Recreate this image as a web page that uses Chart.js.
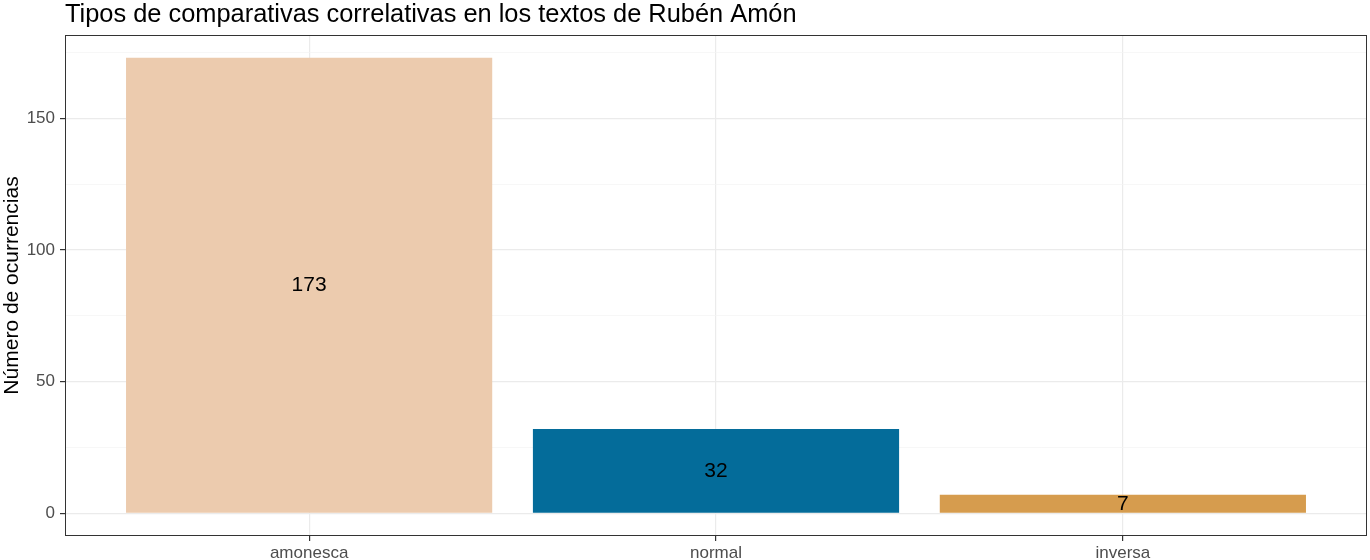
<!DOCTYPE html>
<html>
<head>
<meta charset="utf-8">
<script src="https://cdn.jsdelivr.net/npm/chart.js@4.4.0/dist/chart.umd.min.js"></script>
<style>
  html, body { margin: 0; padding: 0; background: #fff; }
  #wrap { width: 1370px; height: 560px; }
</style>
</head>
<body>
<div id="wrap"><canvas id="bars"></canvas></div>
<script>
const categories = ['amonesca', 'normal', 'inversa'];
const counts = [173, 32, 7];
const barColors = ['#ECCBAE', '#046C9A', '#D69C4E'];
const yTicks = [0, 25, 50, 75, 100, 125, 150, 175];

const titleText = 'Tipos de comparativas correlativas en los textos de Rubén Amón';
const fontFamily = '"Liberation Sans", Arial, Helvetica, sans-serif';

// ggplot-like extras: title, panel box and value labels
const extras = {
  id: 'extras',
  afterDraw(chart) {
    const c = chart.ctx;
    const a = chart.chartArea;
    c.save();
    c.fillStyle = '#000';
    c.font = '25.4px ' + fontFamily;
    c.textBaseline = 'middle';
    c.textAlign = 'left';
    c.fillText(titleText, a.left, 15);

    c.strokeStyle = '#333333';
    c.lineWidth = 1;
    c.strokeRect(a.left + 0.5, a.top + 0.5, a.right - a.left - 1, a.bottom - a.top - 1);

    const xs = chart.scales.x, ys = chart.scales.y;
    c.font = '21px ' + fontFamily;
    c.textAlign = 'center';
    counts.forEach((v, i) => {
      c.fillText(String(v), xs.getPixelForValue(i + 1), ys.getPixelForValue(v / 2));
    });
    c.restore();
  }
};

new Chart(document.getElementById('bars'), {
  type: 'bar',
  data: {
    datasets: [{
      data: counts.map((v, i) => ({ x: i + 1, y: v })),
      backgroundColor: barColors,
      borderWidth: 0,
      barPercentage: 0.9,
      categoryPercentage: 1
    }]
  },
  options: {
    responsive: true,
    maintainAspectRatio: false,
    animation: false,
    layout: { padding: { top: 35, right: 3, left: 0, bottom: 0 } },
    plugins: {
      legend: { display: false },
      tooltip: { enabled: false }
    },
    scales: {
      x: {
        type: 'linear',
        min: 0.4,
        max: 3.6,
        offset: false,
        afterBuildTicks: s => { s.ticks = categories.map((c, i) => ({ value: i + 1 })); },
        afterFit: s => { s.height = 24; },
        ticks: {
          color: '#4D4D4D',
          font: { family: fontFamily, size: 17 },
          padding: 2,
          maxRotation: 0,
          autoSkip: false,
          callback: v => categories[Math.round(v) - 1]
        },
        grid: {
          offset: false,
          color: '#EBEBEB',
          lineWidth: 1.2,
          tickColor: '#333333',
          tickLength: 5
        },
        border: { display: false }
      },
      y: {
        min: -8.65,
        max: 181.65,
        afterBuildTicks: s => { s.ticks = yTicks.map(v => ({ value: v })); },
        afterFit: s => { s.width = 65; },
        title: {
          display: true,
          text: 'Número de ocurrencias',
          color: '#000',
          font: { family: fontFamily, size: 21 },
          padding: { top: 0, bottom: 0 }
        },
        ticks: {
          color: '#4D4D4D',
          font: { family: fontFamily, size: 17 },
          padding: 5,
          autoSkip: false,
          callback: v => (v % 50 === 0 ? String(v) : '')
        },
        grid: {
          color: ctx => (ctx.tick && ctx.tick.value % 50 === 0 ? '#EBEBEB' : '#F3F3F3'),
          lineWidth: ctx => (ctx.tick && ctx.tick.value % 50 === 0 ? 1.2 : 0.7),
          tickColor: ctx => (ctx.tick && ctx.tick.value % 50 === 0 ? '#333333' : 'rgba(0,0,0,0)'),
          tickLength: 5
        },
        border: { display: false }
      }
    }
  },
  plugins: [extras]
});
</script>
</body>
</html>
